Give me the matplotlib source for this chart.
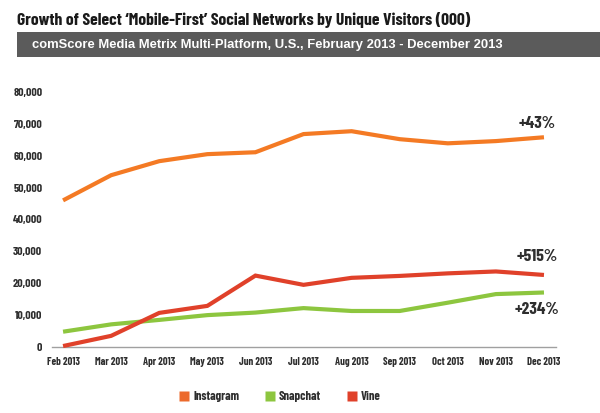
import matplotlib
matplotlib.use("Agg")
import matplotlib.pyplot as plt
from matplotlib.patches import Rectangle
from matplotlib.lines import Line2D
from matplotlib import font_manager

months = ["Feb 2013", "Mar 2013", "Apr 2013", "May 2013", "Jun 2013", "Jul 2013",
          "Aug 2013", "Sep 2013", "Oct 2013", "Nov 2013", "Dec 2013"]
instagram = [46000, 53900, 58300, 60500, 61100, 66800, 67700, 65200, 63900, 64600, 65800]
snapchat = [4800, 7100, 8500, 10000, 10800, 12200, 11300, 11300, 13900, 16600, 17100]
vine = [300, 3500, 10700, 12900, 22400, 19500, 21700, 22300, 23100, 23700, 22600]
series_names = ["Instagram", "Snapchat", "Vine"]
growth_labels = ["+43%", "+234%", "+515%"]
yticks = [0, 10000, 20000, 30000, 40000, 50000, 60000, 70000, 80000]
title = "Growth of Select \u2018Mobile-First\u2019 Social Networks by Unique Visitors (000)"
subtitle = "comScore Media Metrix Multi-Platform, U.S., February 2013 - December 2013"

colors = {"Instagram": "#F47A24", "Snapchat": "#8DC63F", "Vine": "#E0412A"}
legend_colors = {"Instagram": "#EC6A2C", "Snapchat": "#8DC63F", "Vine": "#E0412A"}

names = {f.name for f in font_manager.fontManager.ttflist}
cond = next((n for n in ["Barlow Condensed", "Roboto Condensed", "Archivo Narrow"]
             if n in names), "DejaVu Sans")
sans = next((n for n in ["Liberation Sans", "Arimo", "DejaVu Sans"] if n in names), "DejaVu Sans")

W, H = 600, 413
fig = plt.figure(figsize=(W / 100, H / 100), dpi=100)
fig.patch.set_facecolor("white")
renderer = fig.canvas.get_renderer()


def fx(px):
    return px / W


def fy(py):
    return 1 - py / H


def fit(t, target_w):
    for _ in range(3):
        w = t.get_window_extent(renderer).width
        t.set_fontsize(t.get_fontsize() * target_w / w)
    return t.get_fontsize()


def fit_size(text, target_w, family, weight="bold"):
    t = fig.text(0, 0, text, family=family, weight=weight, fontsize=10)
    s = fit(t, target_w)
    t.remove()
    return s


# Title
t1 = fig.text(fx(17), fy(20), title, family=cond, weight="bold", fontsize=13,
              color="#1a1a1a", va="center", ha="left")
fit(t1, 452)
# Banner
fig.patches.append(Rectangle((fx(17), fy(57)), 1 - fx(17), fy(32) - fy(57),
                             transform=fig.transFigure, facecolor="#5b5b5b",
                             edgecolor="none"))
t2 = fig.text(fx(32), fy(45), subtitle, family=sans, weight="bold",
              fontsize=8.6, color="white", va="center", ha="left")
fit(t2, 468)

ax = fig.add_axes([fx(52), fy(347), fx(556) - fx(52), fy(92) - fy(347)])
x = list(range(len(months)))
data = {"Instagram": instagram, "Snapchat": snapchat, "Vine": vine}
for name in ["Snapchat", "Vine", "Instagram"]:
    ax.plot(x, data[name], color=colors[name], lw=3.0, solid_capstyle="butt",
            solid_joinstyle="miter", clip_on=False, zorder=3)

ax.set_xlim(-0.23, len(months) - 1 + 0.25)
ax.set_ylim(0, 80000)
for s in ["top", "right", "left"]:
    ax.spines[s].set_visible(False)
ax.spines["bottom"].set_color("#a0a0a0")
ax.spines["bottom"].set_linewidth(1.0)
ax.set_xticks(x)
ax.set_xticklabels(months)
ax.set_yticks(yticks)
ax.set_yticklabels([f"{v:,}" for v in yticks])
ax.tick_params(length=0)
ax.tick_params(axis="x", pad=7)
ax.tick_params(axis="y", pad=7)
tick_size = fit_size("80,000", 29, cond)
xtick_size = fit_size("Feb 2013", 33, cond)
for lab in ax.get_yticklabels():
    lab.set_family(cond)
    lab.set_weight("bold")
    lab.set_fontsize(tick_size)
    lab.set_color("#2e2e2e")
for lab in ax.get_xticklabels():
    lab.set_family(cond)
    lab.set_weight("bold")
    lab.set_fontsize(xtick_size)
    lab.set_color("#2e2e2e")

# Growth annotations
ann_size = fit_size("+43%", 37, cond)
last = len(months) - 1
ann = [(instagram[last], growth_labels[0], 10),
       (snapchat[last], growth_labels[1], -12),
       (vine[last], growth_labels[2], 13)]
for yv, txt, dy in ann:
    ax.annotate(txt, (last, yv), xytext=(-5, dy), textcoords="offset points",
                ha="center", va="center", family=cond, weight="bold",
                fontsize=ann_size, color="#2e2e2e", annotation_clip=False)

# Legend
leg_size = fit_size("Instagram", 46, cond)
handles = [Line2D([], [], marker="s", linestyle="none", markersize=6.5,
                  markerfacecolor=legend_colors[n], markeredgecolor="none") for n in series_names]
leg = fig.legend(handles, series_names, loc="center", bbox_to_anchor=(fx(279), fy(397)),
                 ncol=3, frameon=False, handletextpad=0.1, columnspacing=1.9,
                 handlelength=1.2,
                 prop={"family": cond, "weight": "bold", "size": leg_size})
for t in leg.get_texts():
    t.set_color("#2e2e2e")

fig.savefig("out.png", dpi=100, facecolor="white")
